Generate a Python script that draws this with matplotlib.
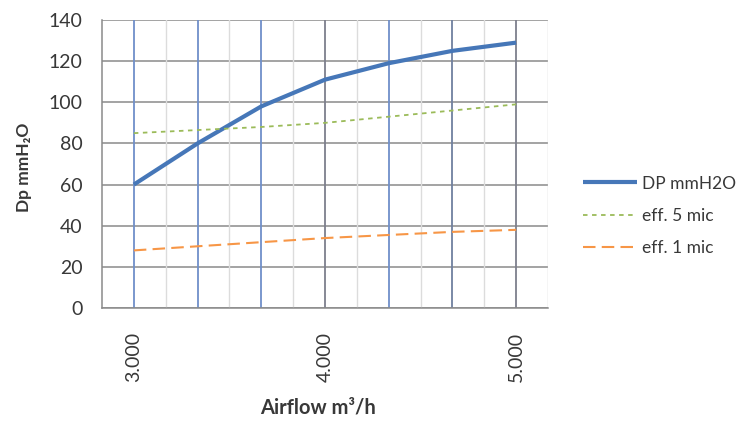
import matplotlib
matplotlib.use("Agg")
import matplotlib.pyplot as plt
import numpy as np

airflow = [3000, 3333, 3667, 4000, 4333, 4667, 5000]
dp_mmh2o = [60, 80, 98, 111, 119, 125, 129]
eff_5_mic = [85, 86.5, 88, 90, 93, 96, 99]
eff_1_mic = [28, 30, 32, 34, 35.5, 37, 38]
tick_labels = ["3.000", "", "", "4.000", "", "", "5.000"]
y_ticks = [0, 20, 40, 60, 80, 100, 120, 140]

plt.rcParams['font.family'] = ['Lato', 'DejaVu Sans']

fig = plt.figure(figsize=(7.51, 4.21), dpi=100)
ax = fig.add_axes([102/751, 1-308/421, (548-102)/751, (308-20)/421])

idx = np.arange(len(airflow))
ax.set_xlim(-0.5, len(airflow) - 0.5)
ax.set_ylim(0, 140)

# grid lines
for y in y_ticks:
    ax.axhline(y, color='#8a8a8a', lw=1.1, zorder=1)
for m in idx[:-1] + 0.5:
    ax.axvline(m, color='#dcdcdc', lw=1.0, zorder=1)
vcols = ['#6f8fc9', '#6f8fc9', '#6f8fc9', '#7d7f8c', '#6f8fc9', '#70809f', '#7d7f8c']
for i, c in zip(idx, vcols):
    ax.axvline(i, color=c, lw=1.3, zorder=1)

ax.plot(idx, dp_mmh2o, color='#4677b8', lw=3, label='DP mmH2O', zorder=3,
        solid_capstyle='butt')
ax.plot(idx, eff_5_mic, color='#9bbb59', lw=1.3, ls=(0, (2.5, 2.5)),
        label='eff. 5 mic', zorder=3)
ax.plot(idx, eff_1_mic, color='#f79646', lw=1.5, ls=(0, (6, 3)),
        label='eff. 1 mic', zorder=3)

for s in ['top', 'right']:
    ax.spines[s].set_visible(False)
ax.spines['left'].set_color('#8a8a8a')
ax.spines['bottom'].set_color('#8a8a8a')
ax.spines['left'].set_linewidth(1.1)
ax.spines['bottom'].set_linewidth(1.1)
ax.axvline(len(airflow) - 0.5, color='#d0d0d0', lw=1.0, zorder=1)

ax.set_xticks(idx)
ax.set_xticklabels(tick_labels, rotation=90, fontsize=14, color='#383838')
ax.set_yticks(y_ticks)
ax.set_yticklabels([str(v) for v in y_ticks], fontsize=14, color='#383838')
ax.tick_params(axis='x', length=0, pad=17)
ax.tick_params(axis='y', length=0, pad=14)

ax.set_xlabel('Airflow m³/h', fontsize=14.5, fontweight='bold', color='#383838')
ax.set_ylabel('Dp mmH₂O', fontsize=12.5, fontweight='bold', color='#383838')
ax.xaxis.set_label_coords(0.484, -0.31)
ax.yaxis.set_label_coords(-0.158, 0.49)

leg = fig.legend(loc='center left', bbox_to_anchor=(583/751, 1-216/421),
                 frameon=False, handlelength=3.1, fontsize=12.5,
                 labelspacing=0.95, handletextpad=0.3, borderpad=0,
                 borderaxespad=0)
for t in leg.get_texts():
    t.set_color('#383838')

fig.savefig('out.png', dpi=100)
